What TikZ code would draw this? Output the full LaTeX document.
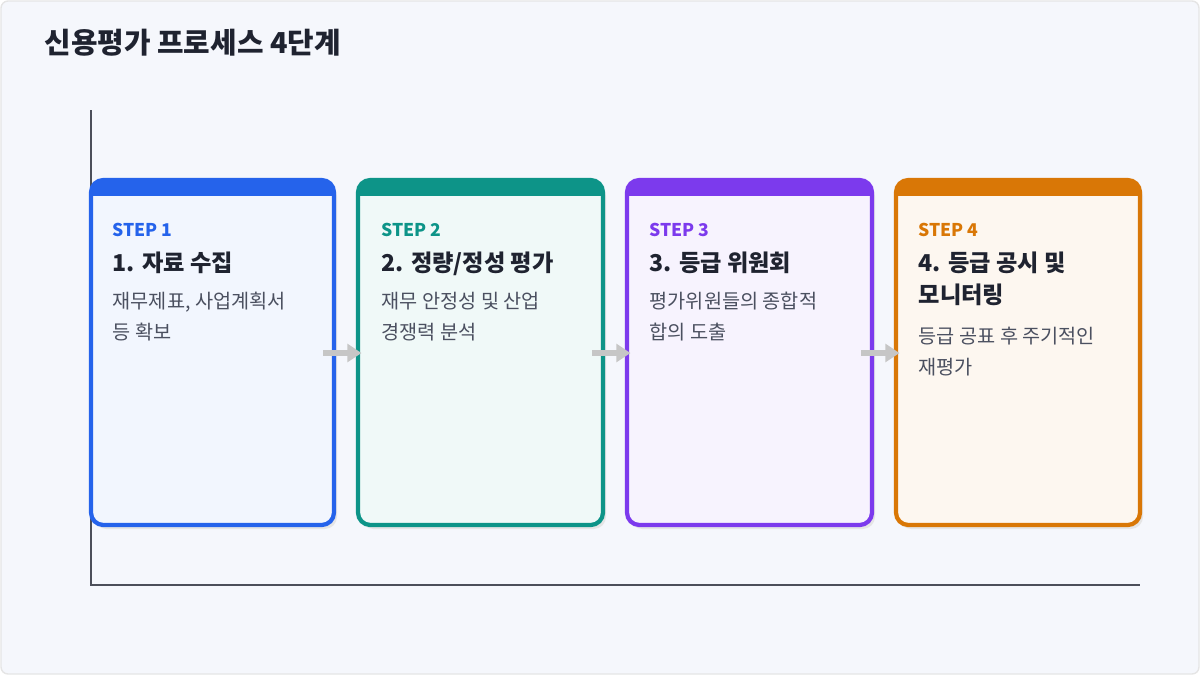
\documentclass[tikz,border=0pt]{standalone}
\usepackage{fontspec}
\setmainfont{Noto Sans CJK KR}
\usepackage{tikz}
\usetikzlibrary{arrows.meta}
\definecolor{bluestep}{HTML}{2563EB}
\definecolor{tealstep}{HTML}{0D9488}
\definecolor{purplestep}{HTML}{7C3AED}
\definecolor{orangestep}{HTML}{D97706}
\definecolor{pagebg}{HTML}{F5F7FC}
\definecolor{ink}{HTML}{1F2330}
\definecolor{bodyink}{HTML}{4B5060}
\begin{document}
\begin{tikzpicture}[x=0.01cm,y=-0.01cm,
		card/.style={rounded corners=3.5pt, line width=1.2pt},
		steplabel/.style={anchor=north west, inner sep=0pt, font=\fontsize{5}{6}\selectfont\bfseries},
		heading/.style={anchor=north west, inner sep=0pt, font=\fontsize{6.6}{9.2}\selectfont\bfseries, text=ink, align=left},
		bodytext/.style={anchor=north west, inner sep=0pt, font=\fontsize{5.6}{9}\selectfont, text=bodyink, align=left},
		link/.style={draw=gray!45, line width=1.5pt, -{Triangle[length=4pt,width=5pt]}}]
	\useasboundingbox (0,0) rectangle (1200,675);
	\draw[fill=pagebg, draw=gray!20, rounded corners=2pt] (1,1) rectangle (1199,674);
	\node[anchor=north west, inner sep=0pt, font=\fontsize{8.2}{10}\selectfont\bfseries, text=ink] (title) at (44,28) {신용평가 프로세스 4단계};
	
	\coordinate (axtop) at (91,110);
	\coordinate (axorigin) at (91,585);
	\coordinate (axend) at (1140,585);
	\draw[ink!80, line width=0.5pt] (axtop) -- (axorigin) -- (axend);
	
	% cards
	\foreach \name/\xa/\xb/\col in {c1/91/334/bluestep, c2/358/603/tealstep, c3/627/872/purplestep, c4/896/1140/orangestep} {
		\fill[gray!20, rounded corners=3.5pt] (\xa+3,184) rectangle (\xb+3,529);
		\begin{scope}
			\clip[rounded corners=3.5pt] (\xa,180) rectangle (\xb,525);
			\fill[\col!6] (\xa,180) rectangle (\xb,525);
			\fill[\col] (\xa,180) rectangle (\xb,196);
		\end{scope}
		\draw[card, draw=\col] (\xa,180) rectangle (\xb,525);
		\coordinate (\name w) at (\xa,353);
		\coordinate (\name e) at (\xb,353);
	}
	
	\node[steplabel, text=bluestep] (s1) at (112,222) {STEP 1};
	\node[heading] (h1) at (112,251) {1. 자료 수집};
	\node[bodytext] (b1) at (112,291) {재무제표, 사업계획서\\등 확보};
	
	\node[steplabel, text=tealstep] (s2) at (381,222) {STEP 2};
	\node[heading] (h2) at (381,251) {2. 정량/정성 평가};
	\node[bodytext] (b2) at (381,291) {재무 안정성 및 산업\\경쟁력 분석};
	
	\node[steplabel, text=purplestep] (s3) at (649,222) {STEP 3};
	\node[heading] (h3) at (649,251) {3. 등급 위원회};
	\node[bodytext] (b3) at (649,291) {평가위원들의 종합적\\합의 도출};
	
	\node[steplabel, text=orangestep] (s4) at (918,222) {STEP 4};
	\node[heading] (h4) at (918,251) {4. 등급 공시 및\\모니터링};
	\node[bodytext] (b4) at (918,326) {등급 공표 후 주기적인\\재평가};
	
	\draw[link] ([xshift=-3]c1e) -- ([xshift=1]c2w);
	\draw[link] ([xshift=-3]c2e) -- ([xshift=1]c3w);
	\draw[link] ([xshift=-3]c3e) -- ([xshift=1]c4w);
\end{tikzpicture}
\end{document}
